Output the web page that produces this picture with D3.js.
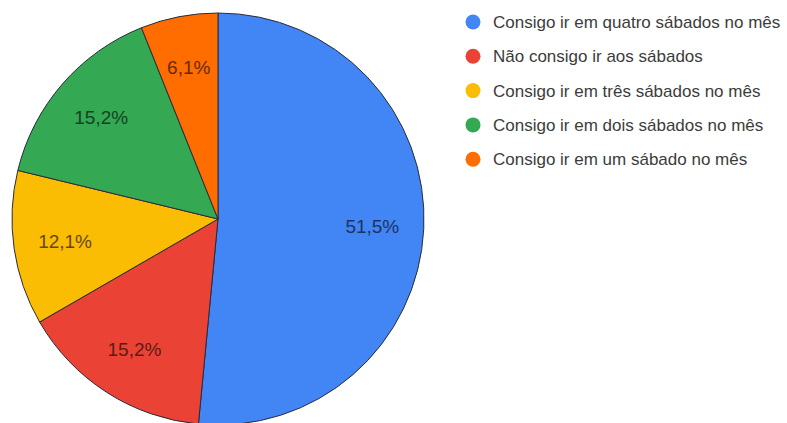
<!DOCTYPE html>
<html>
<head>
<meta charset="utf-8">
<script src="https://cdn.jsdelivr.net/npm/d3@7"></script>
<style>
  html, body { margin: 0; padding: 0; background: #fff; }
  svg { display: block; }
  text { font-family: Arial, "Liberation Sans", sans-serif; }
</style>
</head>
<body>
<svg id="chart" width="787" height="423"></svg>
<script>
// Responses to the Saturday availability question
const categories = [
  "Consigo ir em quatro sábados no mês",
  "Não consigo ir aos sábados",
  "Consigo ir em três sábados no mês",
  "Consigo ir em dois sábados no mês",
  "Consigo ir em um sábado no mês"
];
const counts = [17, 5, 4, 5, 2];
const percentLabels = ["51,5%", "15,2%", "12,1%", "15,2%", "6,1%"];

const palette = ["#4285f4", "#ea4335", "#fbbc04", "#34a853", "#ff6d01"];

const svg = d3.select("#chart");
const cx = 218, cy = 219, R = 206;

const color = d3.scaleOrdinal().domain(categories).range(palette);

const pie = d3.pie().sort(null).value(d => d.count);
const data = categories.map((c, i) => ({ name: c, count: counts[i], label: percentLabels[i] }));
const arcs = pie(data);

const arc = d3.arc().innerRadius(0).outerRadius(R);
const labelArc = d3.arc().innerRadius(R * 0.75).outerRadius(R * 0.75);

const g = svg.append("g").attr("transform", `translate(${cx},${cy})`);

g.selectAll("path.slice")
  .data(arcs)
  .join("path")
  .attr("class", "slice")
  .attr("d", arc)
  .attr("fill", d => color(d.data.name))
  .attr("stroke", "#2b2b3a")
  .attr("stroke-width", 1);

g.selectAll("text.pct")
  .data(arcs)
  .join("text")
  .attr("class", "pct")
  .attr("transform", d => `translate(${labelArc.centroid(d)})`)
  .attr("text-anchor", "middle")
  .attr("dy", "0.35em")
  .attr("font-size", 19)
  .attr("fill", d => d3.color(color(d.data.name)).darker(2.6))
  .text(d => d.data.label);

// Legend
const legend = svg.append("g").attr("transform", "translate(473,22)");
const rows = legend.selectAll("g.row")
  .data(categories)
  .join("g")
  .attr("class", "row")
  .attr("transform", (d, i) => `translate(0,${i * 34.3})`);

rows.append("circle")
  .attr("r", 7.5)
  .attr("fill", d => color(d));

rows.append("text")
  .attr("x", 20)
  .attr("dy", "0.35em")
  .attr("font-size", 17)
  .attr("fill", "#3c3c3c")
  .text(d => d);
</script>
</body>
</html>
